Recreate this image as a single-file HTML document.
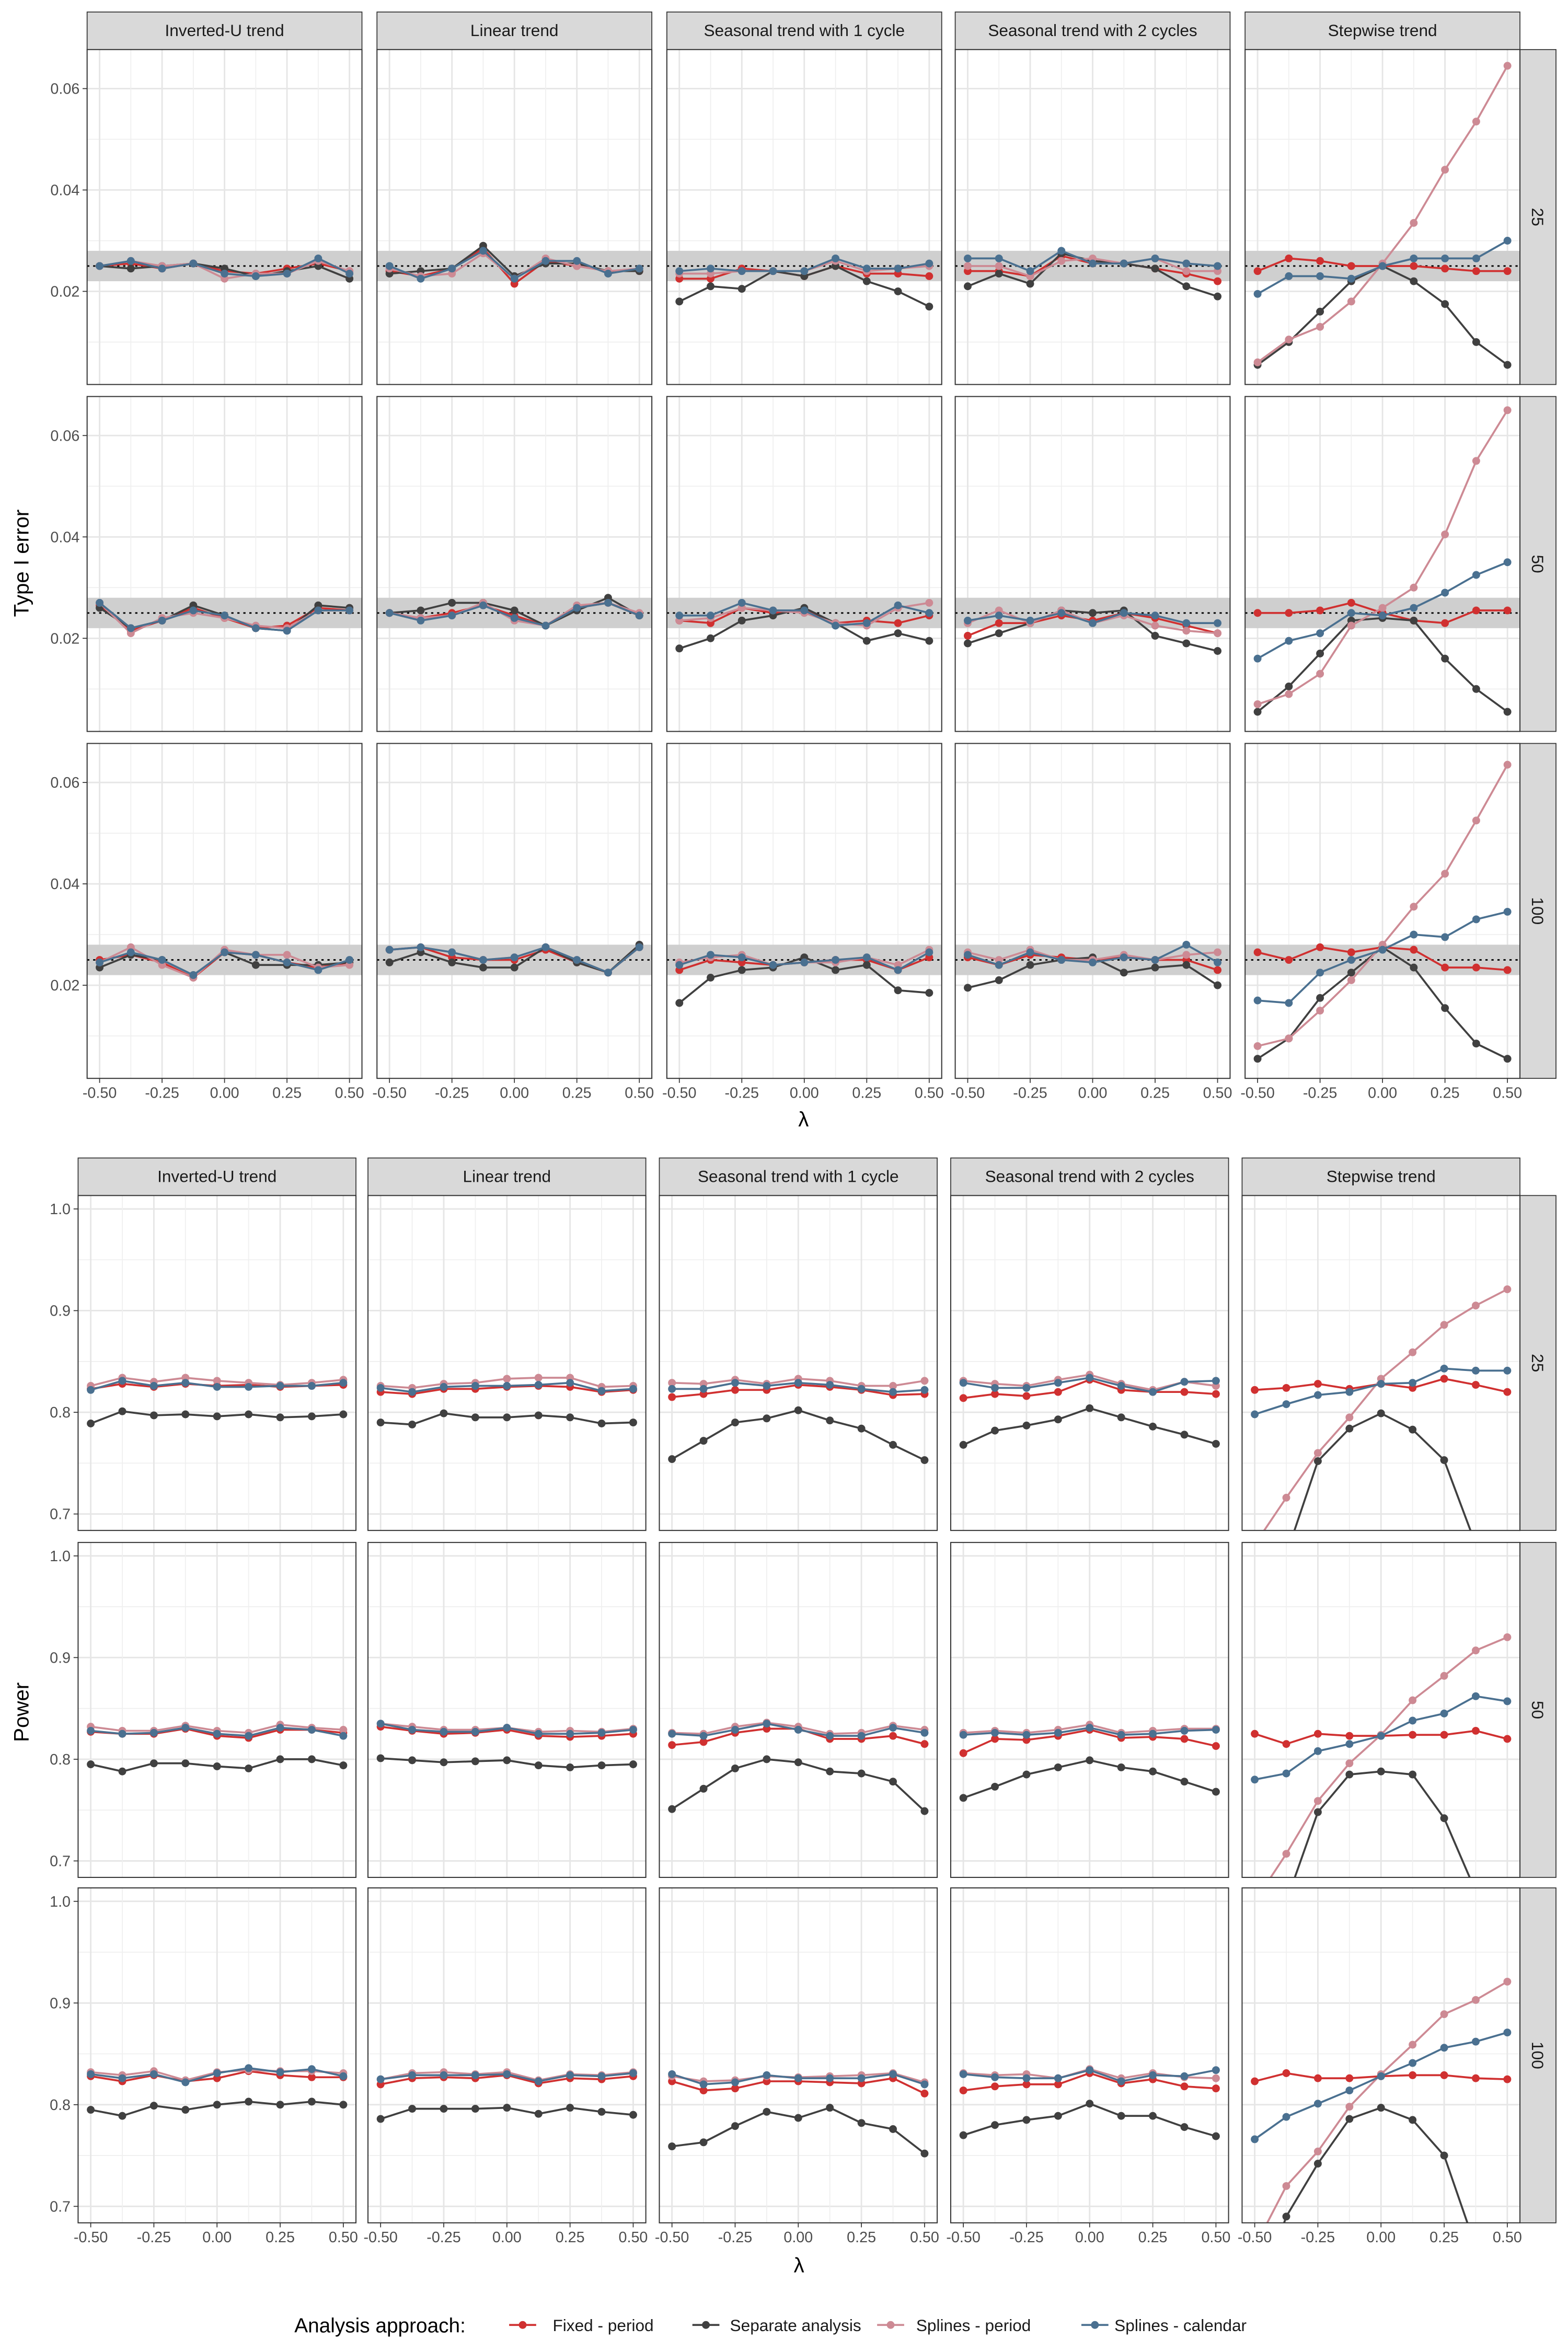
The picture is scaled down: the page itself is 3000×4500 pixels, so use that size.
<!DOCTYPE html>
<html><head><meta charset="utf-8"><style>
html,body{margin:0;padding:0;background:#fff}
svg{display:block}
text{font-family:"Liberation Sans",sans-serif}
</style></head><body>
<svg id="fig" width="3000" height="4500" viewBox="0 0 1044 1566" xmlns="http://www.w3.org/2000/svg">
<text x="19" y="375" font-size="14" text-anchor="middle" transform="rotate(-90 19 375)" fill="#000">Type I error</text>
<text x="19" y="1140" font-size="14" text-anchor="middle" transform="rotate(-90 19 1140)" fill="#000">Power</text>
<text x="535" y="750" font-size="14" text-anchor="middle" fill="#000">λ</text>
<text x="532" y="1513" font-size="14" text-anchor="middle" fill="#000">λ</text>
<g>
<text x="196" y="1553" font-size="13.5" fill="#000">Analysis approach:</text>
<g><line x1="339" y1="1548" x2="357" y2="1548" stroke="#d03030" stroke-width="1.3"/><circle cx="348" cy="1548" r="2.6" fill="#d03030"/><text x="368" y="1552" font-size="11" fill="#1a1a1a">Fixed - period</text></g>
<g><line x1="461" y1="1548" x2="479" y2="1548" stroke="#404040" stroke-width="1.3"/><circle cx="470" cy="1548" r="2.6" fill="#404040"/><text x="486" y="1552" font-size="11" fill="#1a1a1a">Separate analysis</text></g>
<g><line x1="584" y1="1548" x2="602" y2="1548" stroke="#cd8a94" stroke-width="1.3"/><circle cx="593" cy="1548" r="2.6" fill="#cd8a94"/><text x="610" y="1552" font-size="11" fill="#1a1a1a">Splines - period</text></g>
<g><line x1="720" y1="1548" x2="738" y2="1548" stroke="#4a7090" stroke-width="1.3"/><circle cx="729" cy="1548" r="2.6" fill="#4a7090"/><text x="742" y="1552" font-size="11" fill="#1a1a1a">Splines - calendar</text></g>
</g>
</svg>
<script>
const lambdas=[-0.5,-0.375,-0.25,-0.125,0,0.125,0.25,0.375,0.5];
const trends=["Inverted-U trend","Linear trend","Seasonal trend with 1 cycle","Seasonal trend with 2 cycles","Stepwise trend"];
const sizes=["25","50","100"];
const xTicks=[-0.5,-0.25,0,0.25,0.5];
const xTickLabels=["-0.50","-0.25","0.00","0.25","0.50"];
const errTicks=[0.02,0.04,0.06];
const errTickLabels=["0.02","0.04","0.06"];
const powTicks=[0.7,0.8,0.9,1.0];
const powTickLabels=["0.7","0.8","0.9","1.0"];
const nominal=0.025, bandLo=0.022, bandHi=0.028;
const errFixed=[
[[25,25.5,24.5,25.5,24,23.5,24.5,25.5,24],[24,23,24.5,28.5,21.5,26,25,24,24],[22.5,22.5,24.5,24,23,25,23.5,23.5,23],[24,24,23,27,25.5,25.5,24.5,23.5,22],[24,26.5,26,25,25,25,24.5,24,24]],
[[26.5,21.5,23.5,26,24,22,22.5,26,25.5],[25,24,25,26.5,24.5,22.5,26,27,24.5],[23.5,23,26,25,25.5,23,23.5,23,24.5],[20.5,23,23,24.5,23.5,25,24,22.5,21],[25,25,25.5,27,25,23.5,23,25.5,25.5]],
[[25,26,24.5,21.5,26.5,26,24.5,23.5,24.5],[27,27.5,25.5,25,25,27,24.5,22.5,27.5],[23,25,24.5,24,24.5,25,25,23,25.5],[25.5,24,26,25.5,25,25.5,25,25,23],[26.5,25,27.5,26.5,27.5,27,23.5,23.5,23]]];
const errSeparate=[
[[25,24.5,25,25.5,24.5,23,24,25,22.5],[23.5,24,24.5,29,23,25.5,25.5,24,24],[18,21,20.5,24,23,25,22,20,17],[21,23.5,21.5,27.5,26,25.5,24.5,21,19],[5.5,10,16,22,25,22,17.5,10,5.5]],
[[26,22,23.5,26.5,24.5,22,21.5,26.5,26],[25,25.5,27,27,25.5,22.5,25.5,28,24.5],[18,20,23.5,24.5,26,23,19.5,21,19.5],[19,21,23,25.5,25,25.5,20.5,19,17.5],[5.5,10.5,17,23.5,24,23.5,16,10,5.5]],
[[23.5,26,25,22,26.5,24,24,24,24.5],[24.5,26.5,24.5,23.5,23.5,27.5,24.5,22.5,28],[16.5,21.5,23,23.5,25.5,23,24,19,18.5],[19.5,21,24,25,25.5,22.5,23.5,24,20],[5.5,9.5,17.5,22.5,27.5,23.5,15.5,8.5,5.5]]];
const errSplinesPeriod=[
[[25,26,25,25.5,22.5,23.5,23.5,26,24],[24.5,23,23.5,27.5,22.5,26.5,25,24,24.5],[23.5,23.5,24,24,24,26,24,24.5,25],[25,25,23,26,26.5,25.5,26.5,24,24],[6,10.5,13,18,25.5,33.5,44,53.5,64.5]],
[[27,21,24,25,24,22.5,22,25.5,25.5],[25,24,24.5,27,23.5,22.5,26.5,27,25],[23.5,24,26,25.5,25,23,22.5,26,27],[23,25.5,23,25.5,23,24.5,22.5,21.5,21],[7,9,13,22.5,26,30,40.5,55,65]],
[[24.5,27.5,24,21.5,27,26,26,23.5,24],[27,27.5,26.5,25,25.5,27.5,25,22.5,27.5],[24.5,25.5,26,24,24.5,24.5,25.5,24,27],[26.5,25,27,25,25,26,25,26,26.5],[8,9.5,15,21,28,35.5,42,52.5,63.5]]];
const errSplinesCalendar=[
[[25,26,24.5,25.5,23.5,23,23.5,26.5,23.5],[25,22.5,24.5,28,22.5,26,26,23.5,24.5],[24,24.5,24,24,24,26.5,24.5,24.5,25.5],[26.5,26.5,24,28,25.5,25.5,26.5,25.5,25],[19.5,23,23,22.5,25,26.5,26.5,26.5,30]],
[[27,22,23.5,25.5,24.5,22,21.5,25.5,25.5],[25,23.5,24.5,26.5,24,22.5,26,27,24.5],[24.5,24.5,27,25.5,25.5,22.5,23,26.5,25],[23.5,24.5,23.5,25,23,25,24.5,23,23],[16,19.5,21,25,24.5,26,29,32.5,35]],
[[24.5,26.5,25,22,26.5,26,24.5,23,25],[27,27.5,26.5,25,25.5,27.5,25,22.5,27.5],[24,26,25.5,24,24.5,25,25.5,23,26.5],[26,24,26.5,25,24.5,25.5,25,28,24.5],[17,16.5,22.5,25,27,30,29.5,33,34.5]]];
const powFixed=[
[[.823,.828,.825,.828,.826,.827,.825,.826,.827],[.82,.818,.823,.823,.825,.826,.825,.82,.822],[.815,.818,.822,.822,.827,.825,.822,.817,.818],[.814,.818,.816,.82,.832,.822,.82,.82,.818],[.822,.824,.828,.823,.828,.824,.833,.827,.82]],
[[.827,.825,.825,.83,.823,.821,.829,.829,.826],[.832,.828,.825,.826,.829,.823,.822,.823,.825],[.814,.817,.826,.83,.83,.82,.82,.823,.815],[.806,.82,.819,.823,.829,.821,.822,.82,.813],[.825,.815,.825,.823,.823,.824,.824,.828,.82]],
[[.828,.823,.829,.823,.826,.833,.829,.827,.827],[.82,.826,.827,.826,.829,.821,.826,.825,.828],[.823,.814,.816,.823,.823,.822,.821,.826,.811],[.814,.818,.82,.82,.831,.821,.825,.818,.816],[.823,.831,.826,.826,.828,.829,.829,.826,.825]]];
const powSeparate=[
[[.789,.801,.797,.798,.796,.798,.795,.796,.798],[.79,.788,.799,.795,.795,.797,.795,.789,.79],[.754,.772,.79,.794,.802,.792,.784,.768,.753],[.768,.782,.787,.793,.804,.795,.786,.778,.769],[.6,.66,.752,.784,.799,.783,.753,.67,.6]],
[[.795,.788,.796,.796,.793,.791,.8,.8,.794],[.801,.799,.797,.798,.799,.794,.792,.794,.795],[.751,.771,.791,.8,.797,.788,.786,.778,.749],[.762,.773,.785,.792,.799,.792,.788,.778,.768],[.6,.66,.748,.785,.788,.785,.742,.67,.6]],
[[.795,.789,.799,.795,.8,.803,.8,.803,.8],[.786,.796,.796,.796,.797,.791,.797,.793,.79],[.759,.763,.779,.793,.787,.797,.782,.776,.752],[.77,.78,.785,.789,.801,.789,.789,.778,.769],[.6,.69,.742,.786,.797,.785,.75,.66,.6]]];
const powSplinesPeriod=[
[[.826,.834,.83,.834,.831,.829,.827,.829,.832],[.826,.824,.828,.829,.833,.834,.834,.825,.826],[.829,.828,.832,.828,.833,.831,.826,.826,.831],[.831,.828,.826,.832,.837,.828,.822,.83,.826],[.67,.716,.76,.795,.833,.859,.886,.905,.921]],
[[.832,.828,.828,.833,.828,.826,.834,.831,.829],[.835,.832,.829,.829,.831,.827,.828,.827,.83],[.826,.825,.832,.836,.832,.825,.826,.833,.829],[.826,.828,.826,.829,.834,.826,.828,.83,.83],[.66,.707,.759,.796,.824,.858,.882,.907,.92]],
[[.832,.829,.833,.824,.832,.834,.833,.833,.831],[.825,.831,.832,.83,.832,.824,.83,.829,.832],[.828,.823,.824,.828,.827,.828,.829,.831,.822],[.831,.829,.83,.826,.835,.826,.831,.827,.826],[.66,.72,.754,.798,.83,.859,.889,.903,.921]]];
const powSplinesCalendar=[
[[.822,.831,.826,.829,.825,.825,.826,.826,.829],[.824,.82,.825,.826,.826,.827,.829,.821,.823],[.823,.823,.829,.826,.829,.827,.823,.82,.822],[.829,.824,.824,.829,.834,.826,.82,.83,.831],[.798,.808,.817,.82,.828,.829,.843,.841,.841]],
[[.828,.825,.826,.831,.825,.823,.831,.829,.823],[.835,.829,.827,.827,.831,.825,.825,.826,.829],[.825,.823,.829,.835,.829,.823,.823,.831,.826],[.824,.826,.824,.826,.831,.824,.825,.828,.829],[.78,.786,.808,.815,.823,.838,.845,.862,.857]],
[[.83,.826,.83,.822,.831,.836,.832,.835,.828],[.825,.829,.829,.829,.83,.823,.829,.828,.831],[.83,.82,.822,.829,.826,.826,.826,.83,.82],[.83,.827,.826,.826,.834,.823,.829,.828,.834],[.766,.788,.801,.814,.828,.841,.856,.862,.871]]];

const NS="http://www.w3.org/2000/svg";
const svg=document.getElementById('fig');
function mk(tag,attrs,parent){const e=document.createElementNS(NS,tag);for(const k in attrs)e.setAttribute(k,attrs[k]);(parent||svg).appendChild(e);return e;}
const colors={fixed:"#d03030",separate:"#404040",sp:"#cd8a94",cal:"#4a7090"};
let clipId=0;
function drawChart(cfg){
  cfg.colX.forEach((x0,c)=>{
    const st=mk('g',{});
    
    
    mk('rect',{x:x0,y:cfg.stripY,width:cfg.w,height:cfg.rowY[0]-cfg.stripY,fill:'#d9d9d9',stroke:'#333','stroke-width':0.6},st);
    const t=mk('text',{x:x0+cfg.w/2,y:cfg.stripY+16,'font-size':11,'text-anchor':'middle',fill:'#1a1a1a'},st);t.textContent=trends[c];
  });
  cfg.rowY.forEach((y0,r)=>{
    const [lo,hi]=cfg.dom;
    const sy=v=>y0+cfg.h-(v-lo)/(hi-lo)*cfg.h;
    const rs=mk('g',{});
    
    
    mk('rect',{x:1012,y:y0,width:24,height:cfg.h,fill:'#d9d9d9',stroke:'#333','stroke-width':0.6},rs);
    const tt=mk('text',{x:1020,y:y0+cfg.h/2,'font-size':11,'text-anchor':'middle',fill:'#1a1a1a',transform:`rotate(90 1020 ${y0+cfg.h/2})`},rs);tt.textContent=sizes[r];
    cfg.ticks.forEach((v,i)=>{
      const lab=mk('text',{x:cfg.colX[0]-5,y:sy(v)+3.5,'font-size':10,'text-anchor':'end',fill:'#4d4d4d'});
      
      
      lab.textContent=cfg.tickLabels[i];
      mk('line',{x1:cfg.colX[0]-3,x2:cfg.colX[0],y1:sy(v),y2:sy(v),stroke:'#333','stroke-width':0.6});
    });
    cfg.colX.forEach((x0,c)=>{
      const sx=v=>x0+(v+0.55)/1.1*cfg.w;
      const g=mk('g',{});
      
      
      const cid='clip'+(clipId++);
      const cp=mk('clipPath',{id:cid},g);mk('rect',{x:x0,y:y0,width:cfg.w,height:cfg.h},cp);
      mk('rect',{x:x0,y:y0,width:cfg.w,height:cfg.h,fill:'#fff'},g);
      for(let i=0;i<cfg.ticks.length;i++){
        mk('line',{x1:x0,x2:x0+cfg.w,y1:sy(cfg.ticks[i]),y2:sy(cfg.ticks[i]),stroke:'#e6e6e6','stroke-width':1},g);
      }
      const step=cfg.ticks[1]-cfg.ticks[0];
      for(let v=cfg.ticks[0]-step/2;v<hi;v+=step){ if(v>lo) mk('line',{x1:x0,x2:x0+cfg.w,y1:sy(v),y2:sy(v),stroke:'#efefef','stroke-width':0.6},g);}
      xTicks.forEach(v=>mk('line',{x1:sx(v),x2:sx(v),y1:y0,y2:y0+cfg.h,stroke:'#e6e6e6','stroke-width':1},g));
      for(let i=0;i<4;i++){const v=xTicks[i]+0.125;mk('line',{x1:sx(v),x2:sx(v),y1:y0,y2:y0+cfg.h,stroke:'#efefef','stroke-width':0.6},g);}
      if(cfg.band){
        const b=mk('rect',{x:x0,y:sy(bandHi),width:cfg.w,height:sy(bandLo)-sy(bandHi),fill:'#cfcfcf'},g);
        
        
        const d=mk('line',{x1:x0,x2:x0+cfg.w,y1:sy(nominal),y2:sy(nominal),stroke:'#000','stroke-width':1,'stroke-dasharray':'1.5 2.5'},g);
        
        
      }
      const cg=mk('g',{'clip-path':`url(#${cid})`},g);
      cfg.series.forEach(s=>{
        const vals=s.data[r][c].map(v=>v*cfg.mult);
        const pts=vals.map((v,i)=>sx(lambdas[i]).toFixed(2)+','+sy(v).toFixed(2)).join(' ');
        const pl=mk('polyline',{points:pts,fill:'none',stroke:s.color,'stroke-width':1.3},cg);
        
        
        vals.forEach((v,i)=>{
          const p=mk('circle',{cx:sx(lambdas[i]),cy:sy(v),r:2.6,fill:s.color},cg);
          
          
        });
      });
      mk('rect',{x:x0,y:y0,width:cfg.w,height:cfg.h,fill:'none',stroke:'#333','stroke-width':0.7},g);
      if(r===cfg.rowY.length-1){
        xTicks.forEach((v,i)=>{
          mk('line',{x1:sx(v),x2:sx(v),y1:y0+cfg.h,y2:y0+cfg.h+3,stroke:'#333','stroke-width':0.6});
          const l=mk('text',{x:sx(v),y:y0+cfg.h+13,'font-size':10,'text-anchor':'middle',fill:'#4d4d4d'});
          
          
          l.textContent=xTickLabels[i];
        });
      }
    });
  });
}
drawChart({colX:[58,251,444,636,829],w:183,rowY:[33,264,495],h:223,stripY:8,dom:[0.00163,0.0677],ticks:errTicks,tickLabels:errTickLabels,band:true,mult:0.001,
  series:[{name:'fixed-period',color:colors.fixed,data:errFixed},{name:'separate-analysis',color:colors.separate,data:errSeparate},{name:'splines-period',color:colors.sp,data:errSplinesPeriod},{name:'splines-calendar',color:colors.cal,data:errSplinesCalendar}]});
drawChart({colX:[52,245,439,633,827],w:185,rowY:[796,1027,1257],h:223,stripY:771,dom:[0.6838,1.0132],ticks:powTicks,tickLabels:powTickLabels,band:false,mult:1,
  series:[{name:'fixed-period',color:colors.fixed,data:powFixed},{name:'separate-analysis',color:colors.separate,data:powSeparate},{name:'splines-period',color:colors.sp,data:powSplinesPeriod},{name:'splines-calendar',color:colors.cal,data:powSplinesCalendar}]});
</script>
</body></html>
